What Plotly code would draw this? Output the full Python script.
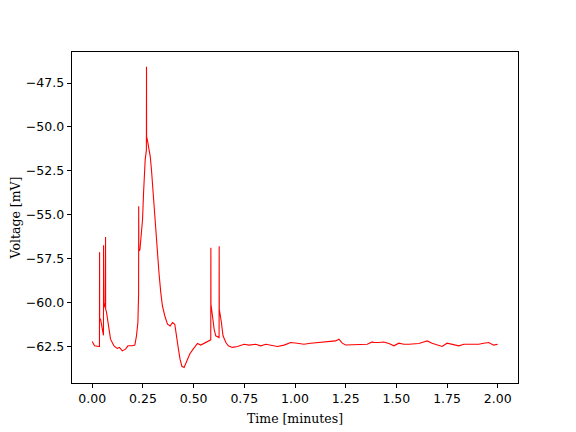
import plotly.graph_objects as go

time_min = [0.000, 0.011, 0.033, 0.0355, 0.036, 0.0365, 0.041, 0.049, 0.0552, 0.0557,
            0.0562, 0.058, 0.0650, 0.0655, 0.0660,
            0.070, 0.077, 0.082, 0.090, 0.107, 0.123, 0.134, 0.148, 0.164, 0.176,
            0.197, 0.210, 0.218, 0.225, 0.2285, 0.229, 0.2295, 0.235, 0.240, 0.248, 0.253,
            0.256, 0.261, 0.267, 0.2675, 0.268, 0.272, 0.277, 0.286, 0.292, 0.300, 0.307,
            0.314, 0.322, 0.329, 0.338, 0.346, 0.358, 0.371, 0.384, 0.396, 0.407,
            0.417, 0.425, 0.433, 0.442, 0.453, 0.467, 0.481, 0.4975, 0.519, 0.535,
            0.560, 0.5845, 0.585, 0.5855, 0.593, 0.601, 0.609, 0.6255, 0.626, 0.6265,
            0.637, 0.645, 0.659, 0.671, 0.691, 0.716, 0.749, 0.773, 0.806, 0.831,
            0.856, 0.880, 0.913, 0.946, 0.979, 1.011, 1.044, 1.077, 1.118, 1.143,
            1.176, 1.200, 1.217, 1.233, 1.250, 1.291, 1.324, 1.356, 1.381, 1.389,
            1.414, 1.438, 1.463, 1.488, 1.512, 1.537, 1.562, 1.586, 1.611, 1.635,
            1.652, 1.676, 1.701, 1.726, 1.750, 1.783, 1.808, 1.833, 1.857, 1.882,
            1.906, 1.931, 1.956, 1.980, 2.000]

voltage_mv = [-62.23, -62.48, -62.52, -62.52, -57.14, -61.00, -60.97, -61.53, -61.88, -56.74,
              -60.02, -60.30, -60.02, -56.27, -60.40,
              -60.55, -61.14, -61.63, -62.10, -62.48, -62.63, -62.57, -62.77, -62.67, -62.48,
              -62.48, -62.44, -61.91, -61.15, -59.55, -54.53, -57.09, -57.00, -56.42, -55.28, -53.75,
              -52.82, -51.88, -51.31, -46.57, -50.55, -50.75, -51.12, -51.69, -52.44, -53.77, -54.90,
              -56.23, -57.56, -58.31, -59.45, -60.21, -60.78, -61.25, -61.35, -61.15, -61.25,
              -61.91, -62.67, -63.24, -63.65, -63.71, -63.34, -62.95, -62.67, -62.35, -62.44,
              -62.29, -62.14, -56.89, -60.11, -60.78, -61.53, -61.91, -62.01, -56.80, -60.40,
              -61.15, -61.91, -62.29, -62.48, -62.57, -62.52, -62.39, -62.44, -62.39, -62.48,
              -62.39, -62.44, -62.52, -62.44, -62.29, -62.33, -62.39, -62.33, -62.29, -62.23,
              -62.20, -62.20, -62.10, -62.33, -62.43, -62.43, -62.43, -62.39, -62.26, -62.29,
              -62.29, -62.26, -62.35, -62.48, -62.33, -62.39, -62.39, -62.35, -62.35, -62.26,
              -62.20, -62.33, -62.44, -62.52, -62.33, -62.44, -62.48, -62.39, -62.39, -62.35,
              -62.39, -62.33, -62.29, -62.44, -62.39]

x_ticks = [0.0, 0.25, 0.5, 0.75, 1.0, 1.25, 1.5, 1.75, 2.0]
x_ticktext = ["0.00", "0.25", "0.50", "0.75", "1.00", "1.25", "1.50", "1.75", "2.00"]
y_ticks = [-62.5, -60.0, -57.5, -55.0, -52.5, -50.0, -47.5]
y_ticktext = ["\u221262.5", "\u221260.0", "\u221257.5", "\u221255.0", "\u221252.5", "\u221250.0", "\u221247.5"]

fig = go.Figure()
fig.add_trace(go.Scatter(x=time_min, y=voltage_mv, mode="lines",
                         line=dict(color="red", width=1.1), showlegend=False))

axis_common = dict(showline=True, linecolor="black", linewidth=1, mirror=True,
                   ticks="outside", ticklen=4.4, tickwidth=1, tickcolor="black",
                   showgrid=False, zeroline=False, automargin=False,
                   tickfont=dict(family="DejaVu Sans", size=12.5, color="black"))

fig.update_layout(
    width=576, height=432,
    margin=dict(l=64, r=66, t=44, b=57),
    paper_bgcolor="white", plot_bgcolor="white",
    xaxis=dict(range=[-0.1, 2.1], tickvals=x_ticks, ticktext=x_ticktext,
               title=dict(text="Time [minutes]", font=dict(family="DejaVu Serif", size=12.5, color="black"),
                          standoff=8),
               **axis_common),
    yaxis=dict(range=[-64.6, -45.73], tickvals=y_ticks, ticktext=y_ticktext,
               title=dict(text="Voltage [mV]", font=dict(family="DejaVu Serif", size=12.5, color="black"),
                          standoff=14),
               **axis_common),
)

fig.write_html("out.html")
